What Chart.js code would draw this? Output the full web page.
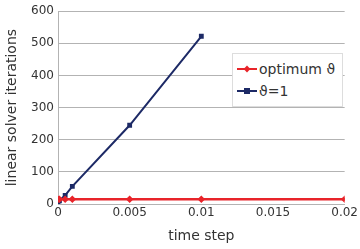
<!DOCTYPE html>
<html>
<head>
<meta charset="utf-8">
<script src="https://cdn.jsdelivr.net/npm/chart.js@4/dist/chart.umd.min.js"></script>
<style>
  body { margin: 0; background: #fff; }
  #wrap { position: relative; width: 360px; height: 249px; }
  #legend {
    position: absolute; left: 232px; top: 53px; width: 111px; height: 54px;
    background: #fff; border: 1px solid #ddd; box-sizing: border-box;
    font-family: "DejaVu Sans", sans-serif; font-size: 14px; color: #333;
    padding: 4px 0 0 4px;
  }
  .item { display: flex; align-items: center; height: 22px; }
  .key { position: relative; width: 20px; height: 10px; margin-right: 2px; }
  .key .ln { position: absolute; left: 0; right: 0; top: 4px; height: 2px; }
  .key .mk { position: absolute; left: 7px; top: 2px; width: 6px; height: 6px; }
</style>
</head>
<body>
<div id="wrap">
  <canvas id="c" width="360" height="249"></canvas>
  <div id="legend">
    <div class="item"><span class="key"><span class="ln" style="background:#e8242a"></span><span class="mk" style="background:#e8242a;transform:rotate(45deg) scale(0.8)"></span></span>optimum ϑ</div>
    <div class="item"><span class="key"><span class="ln" style="background:#1d2a66"></span><span class="mk" style="background:#1d2a66"></span></span>ϑ=1</div>
  </div>
</div>
<script>
const timeSteps = [0, 0.0001, 0.0005, 0.001, 0.005, 0.01, 0.02];
const optimumIters = [15, 15, 15, 15, 15, 15, 15];
const thetaOneSteps = [0, 0.0001, 0.0005, 0.001, 0.005, 0.01];
const thetaOneIters = [5, 10, 27, 55, 245, 522];
const yTicks = [0, 100, 200, 300, 400, 500, 600];
const xTicks = [0, 0.005, 0.01, 0.015, 0.02];

const font = { family: 'DejaVu Sans', size: 12 };

new Chart(document.getElementById('c'), {
  type: 'line',
  data: {
    datasets: [{
      label: 'optimum ϑ',
      data: timeSteps.map((x, i) => ({ x: x, y: optimumIters[i] })),
      borderColor: '#e8242a',
      backgroundColor: '#e8242a',
      borderWidth: 2.5,
      pointStyle: 'rectRot',
      pointRadius: 2
    }, {
      label: 'ϑ=1',
      data: thetaOneSteps.map((x, i) => ({ x: x, y: thetaOneIters[i] })),
      borderColor: '#1d2a66',
      backgroundColor: '#1d2a66',
      borderWidth: 2,
      pointStyle: 'rect',
      pointRadius: 2
    }]
  },
  options: {
    responsive: false,
    animation: false,
    layout: { padding: { top: 10, right: 13, left: 0, bottom: 0 } },
    plugins: { legend: { display: false }, tooltip: { enabled: false } },
    scales: {
      x: {
        type: 'linear', min: 0, max: 0.02,
        afterBuildTicks: s => { s.ticks = xTicks.map(v => ({ value: v })); },
        afterFit: s => { s.height = 45; },
        grid: { display: false, drawTicks: false },
        border: { color: '#b3b3b3' },
        ticks: { color: '#333', font: font, padding: 2, maxRotation: 0,
                 callback: v => String(v) },
        title: { display: true, text: 'time step', color: '#333',
                 font: { family: 'DejaVu Sans', size: 14 }, padding: { top: 4 } }
      },
      y: {
        min: 0, max: 600,
        afterBuildTicks: s => { s.ticks = yTicks.map(v => ({ value: v })); },
        afterFit: s => { s.width = 58; },
        grid: { color: '#b3b3b3', drawTicks: false },
        border: { color: '#b3b3b3' },
        ticks: { color: '#333', font: font, padding: 4 },
        title: { display: true, text: 'linear solver iterations', color: '#333',
                 font: { family: 'DejaVu Sans', size: 14 }, padding: { top: 4, bottom: 1 } }
      }
    }
  }
});
</script>
</body>
</html>
